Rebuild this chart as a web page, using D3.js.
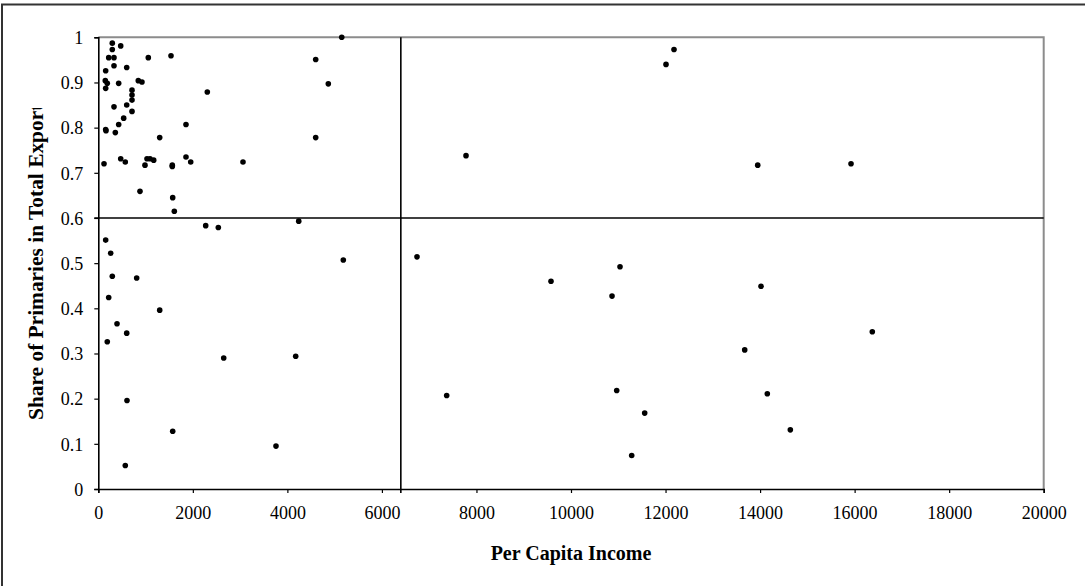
<!DOCTYPE html>
<html>
<head>
<meta charset="utf-8">
<script src="https://cdn.jsdelivr.net/npm/d3@7"></script>
<style>
  html, body { margin: 0; padding: 0; background: #fff; }
  svg { display: block; }
  text { font-family: "Liberation Serif", "Times New Roman", serif; fill: #000; }
</style>
</head>
<body>
<svg id="chart" width="1085" height="586"></svg>
<script>
// Per capita income (x) and share of primaries in total exports (y)
const income = [
  5150, 296, 474, 296, 220, 332, 1058, 1538, 4599, 332,
  601, 156, 148, 190, 431, 846, 924, 4866, 156, 2306,
  713, 713, 713, 332, 601, 713, 537, 431, 1855, 156,
  163, 360, 1299, 4599, 121, 474, 571, 988, 1030, 1094,
  1172, 1565, 1565, 1855, 1955, 3061, 882, 1574,
  1608, 2272, 2539, 4240, 156, 262, 296, 812, 5183, 220,
  1299, 396, 601, 190, 2653, 4176, 607, 1574, 571, 3759,
  12179, 12010, 7779, 13950, 15924, 6742, 9577, 11037, 10868, 14020,
  13675, 16374, 7370, 10967, 11559, 11284, 14153, 14640
];
const primaryShare = [
  1.000, 0.987, 0.981, 0.973, 0.955, 0.955, 0.955, 0.959, 0.951, 0.937,
  0.933, 0.926, 0.904, 0.898, 0.898, 0.904, 0.901, 0.897, 0.887, 0.879,
  0.883, 0.872, 0.861, 0.846, 0.850, 0.836, 0.821, 0.807, 0.807, 0.796,
  0.793, 0.789, 0.778, 0.778, 0.720, 0.731, 0.724, 0.717, 0.731, 0.731,
  0.728, 0.717, 0.714, 0.735, 0.724, 0.724, 0.659, 0.645,
  0.615, 0.583, 0.579, 0.593, 0.551, 0.522, 0.471, 0.467, 0.507, 0.424,
  0.396, 0.366, 0.345, 0.326, 0.290, 0.294, 0.196, 0.128, 0.052, 0.095,
  0.973, 0.940, 0.738, 0.717, 0.720, 0.514, 0.460, 0.492, 0.427, 0.449,
  0.308, 0.348, 0.207, 0.218, 0.168, 0.074, 0.211, 0.131
];
const xTicks = [0, 2000, 4000, 6000, 8000, 10000, 12000, 14000, 16000, 18000, 20000];
const yTicks = [0, 0.1, 0.2, 0.3, 0.4, 0.5, 0.6, 0.7, 0.8, 0.9, 1];
const incomeDivider = 6400;
const shareDivider = 0.6;

const svg = d3.select("#chart");
const plotLeft = 98.3, plotRight = 1043.7, plotTop = 37.3, plotBottom = 489;

const x = d3.scaleLinear().domain([0, 20000]).range([plotLeft, plotRight]);
const y = d3.scaleLinear().domain([0, 1]).range([plotBottom, plotTop]);

// outer frame
svg.append("rect")
  .attr("x", 2).attr("y", 4.5).attr("width", 1100).attr("height", 600)
  .attr("fill", "none").attr("stroke", "#333").attr("stroke-width", 2);

// plot area border (top and right in grey)
svg.append("path")
  .attr("d", `M${plotLeft},${plotTop}H${plotRight}V${plotBottom}`)
  .attr("fill", "none").attr("stroke", "#8c8c8c").attr("stroke-width", 2);

// quadrant dividers
svg.append("line")
  .attr("x1", x(incomeDivider)).attr("x2", x(incomeDivider))
  .attr("y1", y(1)).attr("y2", y(0) + 4)
  .attr("stroke", "#000").attr("stroke-width", 1.6);
svg.append("line")
  .attr("x1", x(0) - 4).attr("x2", x(20000))
  .attr("y1", y(shareDivider)).attr("y2", y(shareDivider))
  .attr("stroke", "#000").attr("stroke-width", 1.6);

// axes
const xAxis = d3.axisBottom(x).tickValues(xTicks).tickSize(4).tickPadding(13)
  .tickFormat(d3.format("d"));
const yAxis = d3.axisLeft(y).tickValues(yTicks).tickSize(4).tickPadding(11)
  .tickFormat(d => d === 0 || d === 1 ? String(d) : d3.format(".1f")(d));

const gx = svg.append("g").attr("transform", `translate(0,${plotBottom})`).call(xAxis);
const gy = svg.append("g").attr("transform", `translate(${plotLeft},0)`).call(yAxis);
[gx, gy].forEach(g => {
  g.select(".domain").attr("stroke", "#000").attr("stroke-width", 1.6);
  g.selectAll(".tick line").attr("stroke", "#000").attr("stroke-width", 1.2);
  g.selectAll(".tick text")
    .attr("font-family", "Liberation Serif, Times New Roman, serif")
    .attr("font-size", 18).attr("fill", "#000");
});
gy.selectAll(".tick text").attr("dy", "0.35em");

// points
svg.append("g").selectAll("circle")
  .data(income.map((v, i) => [v, primaryShare[i]]))
  .join("circle")
  .attr("cx", d => x(d[0]))
  .attr("cy", d => y(d[1]))
  .attr("r", 2.8)
  .attr("fill", "#000");

// axis titles
svg.append("text")
  .attr("x", (plotLeft + plotRight) / 2).attr("y", 560)
  .attr("text-anchor", "middle")
  .attr("font-size", 20).attr("font-weight", "bold")
  .text("Per Capita Income");

// the vertical title runs past the top of its box and is cut off there
svg.append("clipPath").attr("id", "ytitle-clip")
  .append("rect").attr("x", 0).attr("y", 108).attr("width", 90).attr("height", 480);

svg.append("g").attr("clip-path", "url(#ytitle-clip)")
  .append("text")
  .attr("transform", "translate(43,420) rotate(-90)")
  .attr("text-anchor", "start")
  .attr("font-size", 21.4).attr("font-weight", "bold")
  .text("Share of Primaries in Total Exports");
</script>
</body>
</html>
